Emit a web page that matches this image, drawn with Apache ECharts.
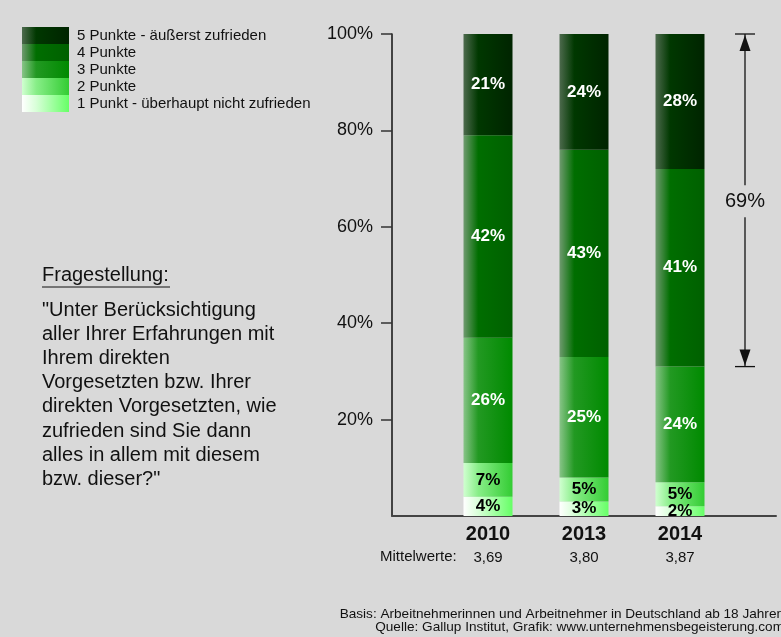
<!DOCTYPE html>
<html>
<head>
<meta charset="utf-8">
<script src="https://cdn.jsdelivr.net/npm/echarts@6/dist/echarts.min.js"></script>
<style>
  html, body { margin: 0; padding: 0; background: #d9d9d9; }
  #chart { width: 781px; height: 637px; }
</style>
</head>
<body>
<div id="chart"></div>
<script>
// Daten
const years = ['2010', '2013', '2014'];
const mittelwerte = ['3,69', '3,80', '3,87'];
const levels = [
  '1 Punkt - überhaupt nicht zufrieden',
  '2 Punkte',
  '3 Punkte',
  '4 Punkte',
  '5 Punkte - äußerst zufrieden'
];
const punkt1 = [4, 3, 2];
const punkt2 = [7, 5, 5];
const punkt3 = [26, 25, 24];
const punkt4 = [42, 43, 41];
const punkt5 = [21, 24, 28];
const yTicks = [0, 20, 40, 60, 80, 100];

// Farbverläufe (links hell -> rechts dunkel)
const gradients = [
  ['#ffffff', '#d8ffd8', '#66ff66'],
  ['#d0ffd0', '#88ee88', '#33cc33'],
  ['#88c488', '#229922', '#008a00'],
  ['#6f9a6f', '#006e00', '#006000'],
  ['#4d6a4d', '#003800', '#002400']
];
const labelColors = ['#000', '#000', '#fff', '#fff', '#fff'];
const font = 'Liberation Sans, Arial';

function grad(c) {
  return new echarts.graphic.LinearGradient(0, 0, 1, 0, [
    { offset: 0, color: c[0] },
    { offset: 0.3, color: c[1] },
    { offset: 1, color: c[2] }
  ]);
}

const cats = [''].concat(years, ['']);
function pad(arr) { return [null].concat(arr, [null]); }

const values = [punkt1, punkt2, punkt3, punkt4, punkt5];
const series = levels.map(function (name, i) {
  return {
    name: name,
    type: 'bar',
    stack: 'all',
    barWidth: 49,
    data: pad(values[i]),
    itemStyle: { color: grad(gradients[i]) },
    label: {
      show: true,
      position: 'inside',
      formatter: '{c}%',
      color: labelColors[i],
      fontFamily: font,
      fontWeight: 'bold',
      fontSize: 17
    }
  };
});

const myChart = echarts.init(document.getElementById('chart'));
const option = {
  backgroundColor: '#d9d9d9',
  animation: false,
  textStyle: { fontFamily: font },
  legend: {
    orient: 'vertical',
    left: 17,
    top: 22,
    itemWidth: 47,
    itemHeight: 17,
    itemGap: 0,
    icon: 'rect',
    selectedMode: false,
    data: levels.slice().reverse(),
    textStyle: { fontSize: 15, color: '#111', padding: [0, 0, 0, 3] }
  },
  grid: { left: 392, top: 34, right: 5, bottom: 121, containLabel: false },
  xAxis: {
    type: 'category',
    data: cats,
    boundaryGap: false,
    axisTick: { show: false },
    axisLine: { lineStyle: { color: '#444', width: 2 } },
    axisLabel: {
      margin: 7,
      interval: 0,
      formatter: function (v, idx) {
        if (!v) return '';
        return '{y|' + v + '}\n{m|' + mittelwerte[idx - 1] + '}';
      },
      rich: {
        y: { fontSize: 20, fontWeight: 'bold', color: '#111', lineHeight: 22 },
        m: { fontSize: 15, color: '#111', lineHeight: 26 }
      }
    }
  },
  yAxis: {
    type: 'value',
    min: yTicks[0],
    max: yTicks[yTicks.length - 1],
    interval: 20,
    splitLine: { show: false },
    axisLine: { show: true, lineStyle: { color: '#111', width: 1.5 } },
    axisTick: { show: true, length: 11, lineStyle: { color: '#333', width: 1.5 } },
    axisLabel: {
      showMinLabel: false,
      formatter: '{value}%',
      fontSize: 18,
      color: '#111',
      margin: 19
    }
  },
  series: series
};
myChart.setOption(option);

// Pfeil 69% (obere zwei Stufen 2014)
const last = years.length - 1;
const topShare = punkt4[last] + punkt5[last];
const yTop = myChart.convertToPixel({ yAxisIndex: 0 }, 100);
const yBot = myChart.convertToPixel({ yAxisIndex: 0 }, 100 - topShare);
const ax = 745;
const lineStyle = { stroke: '#111', lineWidth: 1.3 };

myChart.setOption({
  graphic: [
    { type: 'line', shape: { x1: ax, y1: yTop, x2: ax, y2: yBot }, style: lineStyle },
    { type: 'line', shape: { x1: ax - 10, y1: yTop, x2: ax + 10, y2: yTop }, style: lineStyle },
    { type: 'line', shape: { x1: ax - 10, y1: yBot, x2: ax + 10, y2: yBot }, style: lineStyle },
    { type: 'polygon', shape: { points: [[ax, yTop + 1], [ax - 5.5, yTop + 17], [ax + 5.5, yTop + 17]] }, style: { fill: '#111' } },
    { type: 'polygon', shape: { points: [[ax, yBot - 1], [ax - 5.5, yBot - 17], [ax + 5.5, yBot - 17]] }, style: { fill: '#111' } },
    {
      type: 'text', x: ax, y: (yTop + yBot) / 2 + 1,
      style: {
        text: topShare + '%', fill: '#111', fontSize: 20, fontFamily: font,
        align: 'center', verticalAlign: 'middle',
        backgroundColor: '#d9d9d9', padding: [6, 2]
      }
    },
    // Fragestellung
    {
      type: 'text', x: 42, y: 275,
      style: { text: 'Fragestellung:', fill: '#111', fontSize: 20, fontFamily: font, verticalAlign: 'middle' }
    },
    { type: 'line', shape: { x1: 42, y1: 287, x2: 170, y2: 287 }, style: { stroke: '#111', lineWidth: 1 } },
    {
      type: 'text', x: 42, y: 298,
      style: {
        text: '"Unter Berücksichtigung\naller Ihrer Erfahrungen mit\nIhrem direkten\nVorgesetzten bzw. Ihrer\ndirekten Vorgesetzten, wie\nzufrieden sind Sie dann\nalles in allem mit diesem\nbzw. dieser?"',
        fill: '#111', fontSize: 20, lineHeight: 24.2, fontFamily: font
      }
    },
    {
      type: 'text', x: 380, y: 557,
      style: { text: 'Mittelwerte:', fill: '#111', fontSize: 15, fontFamily: font, verticalAlign: 'middle' }
    },
    {
      type: 'text', x: 784, y: 620.5,
      style: {
        text: 'Basis: Arbeitnehmerinnen und Arbeitnehmer in Deutschland ab 18 Jahren\nQuelle: Gallup Institut, Grafik: www.unternehmensbegeisterung.com',
        fill: '#111', fontSize: 13.6, lineHeight: 13, align: 'right', verticalAlign: 'middle',
        fontFamily: font
      }
    }
  ]
});
</script>
</body>
</html>
